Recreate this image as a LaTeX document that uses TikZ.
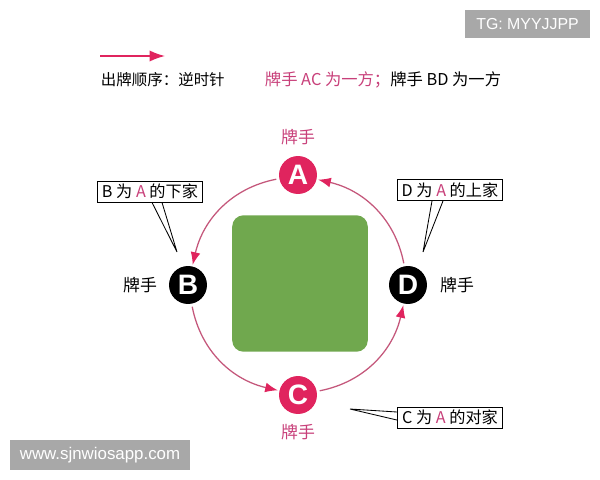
\documentclass[tikz,border=0pt]{standalone}
\usepackage{fontspec}
\setmainfont{Noto Sans CJK SC}
\newfontfamily\latinfont{Liberation Sans}
\usetikzlibrary{arrows.meta,positioning}
\definecolor{seatred}{HTML}{E0245E}
\definecolor{labelred}{HTML}{C8407A}
\definecolor{turnline}{HTML}{C4577B}
\definecolor{felt}{HTML}{70A84E}
\definecolor{markgray}{HTML}{A8A8A8}

\begin{document}
\begin{tikzpicture}[x=0.025cm,y=-0.025cm,
    seat/.style={circle,minimum size=27pt,inner sep=0pt,text=white,font=\latinfont\bfseries\fontsize{20}{20}\selectfont},
    redseat/.style={seat,fill=seatred},
    blackseat/.style={seat,fill=black},
    seatlabel/.style={font=\fontsize{12}{12}\selectfont},
    turn/.style={draw=turnline,line width=0.9pt,shorten <=2pt,shorten >=1pt,-{Latex[length=9pt,width=7pt,color=seatred]}},
    callout/.style={draw,line width=0.6pt,fill=white,inner sep=2pt,minimum width=75pt,minimum height=15pt,font=\fontsize{11.5}{11.5}\selectfont},
    pointer/.style={draw,line width=0.6pt},
    watermark/.style={fill=markgray,text=white,inner sep=0pt,font=\latinfont\fontsize{11.3}{11.3}\selectfont}]
  \useasboundingbox (0,0) rectangle (600,480);

  \node[watermark,minimum width=88.6pt,minimum height=19.9pt] (tg) at (527.5,24) {TG: MYYJJPP};
  \node[watermark,minimum width=127.6pt,minimum height=21.3pt,font=\latinfont\fontsize{12}{12}\selectfont] (site) at (100,455) {www.sjnwiosapp.com};

  \coordinate (legs) at (100,56);
  \coordinate (lege) at (165,56);
  \draw[seatred,line width=1pt,-{Latex[length=11pt,width=8pt]}] (legs) -- (lege);
  \node[anchor=west,font=\fontsize{11}{11}\selectfont] (order) at (96,80) {出牌顺序：逆时针};
  \node[anchor=west,font=\fontsize{11.6}{11.6}\selectfont] (teams) at (260,80) {\textcolor{labelred}{牌手 AC 为一方；}牌手 BD 为一方};

  \node[fill=felt,rounded corners=8pt,minimum width=96.4pt,minimum height=97pt] (tbl) at (300,283.5) {};

  \node[redseat] (A) at (298,175) {A};
  \node[blackseat] (B) at (188,285) {B};
  \node[redseat] (C) at (298,395) {C};
  \node[blackseat] (D) at (408,285) {D};
  \node[seatlabel,text=labelred] (la) at (298,137) {牌手};
  \node[seatlabel] (lb) at (140,285) {牌手};
  \node[seatlabel,text=labelred] (lc) at (298,432) {牌手};
  \node[seatlabel] (ld) at (457,285) {牌手};

  \draw[turn] (A) to[out=191,in=77] (B);
  \draw[turn] (B) to[out=281,in=167] (C);
  \draw[turn] (C) to[out=11,in=257] (D);
  \draw[turn] (D) to[out=101,in=347] (A);

  \node[callout] (bnote) at (150,191.5) {B 为 \textcolor{labelred}{A} 的下家};
  \coordinate (btip) at (177,252);
  \draw[pointer] ([xshift=0.05cm]bnote.south) -- (btip) -- ([xshift=0.3cm]bnote.south);

  \node[callout] (dnote) at (450,190) {D 为 \textcolor{labelred}{A} 的上家};
  \coordinate (dtip) at (423,252);
  \draw[pointer] ([xshift=-0.45cm]dnote.south) -- (dtip) -- ([xshift=-0.175cm]dnote.south);

  \node[callout] (cnote) at (450,417.5) {C 为 \textcolor{labelred}{A} 的对家};
  \coordinate (ctip) at (350,409);
  \draw[pointer] ([yshift=0.1375cm]cnote.west) -- (ctip) -- ([yshift=-0.0625cm]cnote.west);
\end{tikzpicture}
\end{document}
